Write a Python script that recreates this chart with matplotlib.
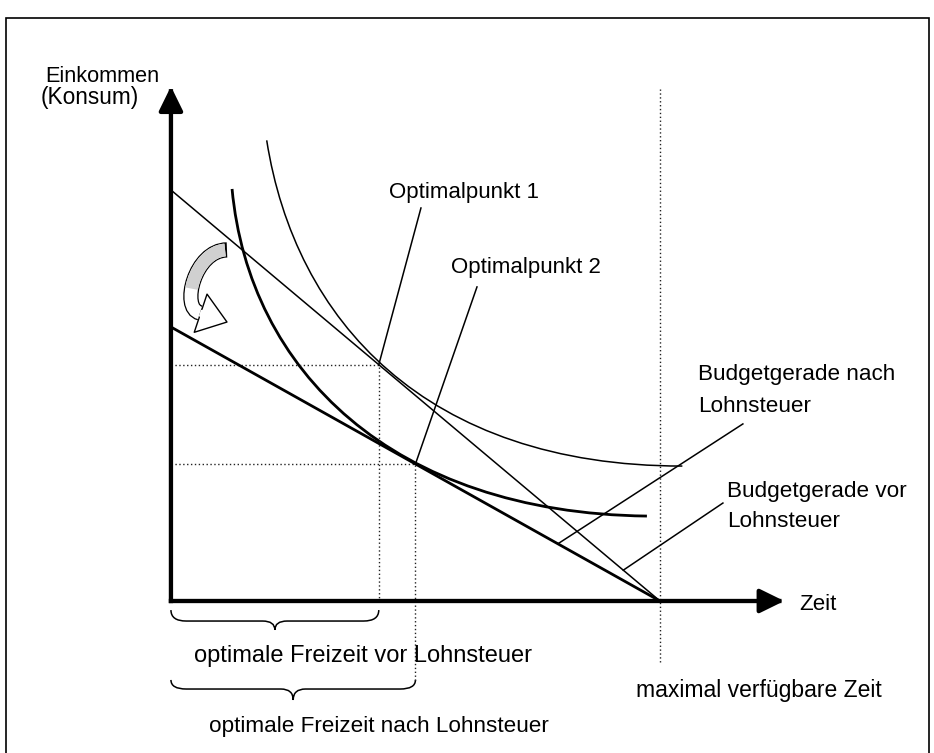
import numpy as np
import matplotlib
matplotlib.use("Agg")
import matplotlib.pyplot as plt
from matplotlib.path import Path
from matplotlib.patches import PathPatch, FancyArrowPatch, Rectangle
from matplotlib.bezier import split_de_casteljau

plt.rcParams['font.family'] = ['Liberation Sans', 'DejaVu Sans']

# time endowment (hours) and wage before / after the income tax
total_time = 24.0
wage_gross = 10.0
wage_net = 6.667

# optimal bundles: index 0 = before tax (Optimalpunkt 1), 1 = after tax (Optimalpunkt 2)
opt_leisure = [10.2, 12.0]
opt_income = [138.0, 80.0]

# indifference curves as cubic bezier control points
curve_high_x = [4.7, 6.09, 12.47, 25.1]
curve_high_y = [269.0, 164.1, 78.8, 78.8]
curve_low_x = [3.0, 3.83, 10.85, 23.36]
curve_low_y = [240.6, 134.9, 51.4, 49.6]

# labels: text, (x, baseline y), font size
labels = [
    ("Einkommen", (-6.16, 303.3), 15.6),
    ("(Konsum)", (-6.38, 290.0), 16.3),
    ("Zeit", (30.82, -5.26), 16),
    ("Optimalpunkt 1", (10.7, 235.6), 16),
    ("Optimalpunkt 2", (13.74, 191.7), 16),
    ("Budgetgerade nach", (25.87, 129.1), 16.2),
    ("Lohnsteuer", (25.87, 110.4), 16.2),
    ("Budgetgerade vor", (27.29, 60.7), 16.2),
    ("Lohnsteuer", (27.29, 43.2), 16.2),
    ("optimale Freizeit vor Lohnsteuer", (1.13, -35.4), 17),
    ("optimale Freizeit nach Lohnsteuer", (1.87, -76.3), 16.2),
    ("maximal verfügbare Zeit", (22.82, -56.1), 16.5),
]

# leader lines from the optimal points / budget lines to their labels
leader_opt_end = [(12.27, 229.5), (15.02, 183.4)]
leader_budget = [[(18.99, 33.4), (28.07, 103.4)], [(22.2, 18.0), (27.09, 57.2)]]

# brace levels below the time axis: (ends, bar, tip)
brace_levels = [(-5.3, -11.7, -16.9), (-46.1, -51.4, -57.8)]

axis_top = 300.5
axis_right = 30.1

fig = plt.figure(figsize=(9.34, 7.53), dpi=100)
ax = fig.add_axes([0, 0, 1, 1])
ax.set_xlim(-8.39, 37.45)
ax.set_ylim(-88.76, 350.95)
ax.axis('off')

# outer frame
fig.add_artist(Rectangle((0.0064, -0.05), 0.9883, 1.0261, transform=fig.transFigure,
                         fill=False, lw=1.2, ec='black'))

dotted = dict(color='#222222', lw=1.0, linestyle=(0, (1, 1.8)))

# maximal verfuegbare Zeit
ax.plot([total_time, total_time], [-35.6, 299], **dotted)

# dotted guides to the optimal points
ax.plot([0, opt_leisure[0], opt_leisure[0]], [opt_income[0], opt_income[0], 0], **dotted)
ax.plot([0, opt_leisure[1], opt_leisure[1]], [opt_income[1], opt_income[1], -47.3], **dotted)

# axes with arrow heads
for end in [(0, axis_top), (axis_right, 0)]:
    ax.add_patch(FancyArrowPatch((0, 0), end,
                                 arrowstyle='-|>,head_length=0.55,head_width=0.27',
                                 mutation_scale=27, lw=3.1, color='black',
                                 shrinkA=0, shrinkB=0, capstyle='projecting', zorder=5))

# budget lines
ax.plot([0, total_time], [wage_gross * total_time, 0], color='black', lw=1.1)
ax.plot([0, total_time], [wage_net * total_time, 0], color='black', lw=2.0)

# indifference curves
bez = [Path.MOVETO, Path.CURVE4, Path.CURVE4, Path.CURVE4]
ax.add_patch(PathPatch(Path(np.column_stack([curve_high_x, curve_high_y]), bez),
                       fill=False, lw=1.1, ec='black'))
ax.add_patch(PathPatch(Path(np.column_stack([curve_low_x, curve_low_y]), bez),
                       fill=False, lw=2.0, ec='black'))

# leader lines
for end, lx, ly in zip(leader_opt_end, opt_leisure, opt_income):
    ax.plot([lx, end[0]], [ly, end[1]], color='black', lw=1.1)
for seg in leader_budget:
    ax.plot([seg[0][0], seg[1][0]], [seg[0][1], seg[1][1]], color='black', lw=1.1)

for txt, pos, size in labels:
    ax.text(pos[0], pos[1], txt, fontsize=size, va='baseline', ha='left')


# curly braces under the time axis
def brace_path(x0, x1, y_top, y_mid, y_tip, r=0.75, rm=0.6):
    xm = (x0 + x1) / 2
    verts = [(x0, y_top), (x0, y_mid), (x0 + r, y_mid),
             (xm - rm, y_mid),
             (xm, y_mid), (xm, y_tip),
             (xm, y_mid), (xm + rm, y_mid),
             (x1 - r, y_mid),
             (x1, y_mid), (x1, y_top)]
    codes = [Path.MOVETO, Path.CURVE3, Path.CURVE3, Path.LINETO,
             Path.CURVE3, Path.CURVE3, Path.CURVE3, Path.CURVE3,
             Path.LINETO, Path.CURVE3, Path.CURVE3]
    return Path(verts, codes)


for lx, lev in zip(opt_leisure, brace_levels):
    ax.add_patch(PathPatch(brace_path(0, lx, *lev), fill=False, lw=1.1, ec='black'))


# curved arrow showing the rotation of the budget line
def sub_cubic(ctrl, t0, t1):
    left, _ = split_de_casteljau(ctrl, t1)
    _, part = split_de_casteljau(np.asarray(left), t0 / t1)
    return Path(np.asarray(part), bez)


arc_ctrl = np.array([[2.75, 205.0], [1.18, 205.0], [0.44, 171.1], [1.42, 168.2]])
arc_tip = np.array([2.75, 162.9])
tail_pt = 9.6

arc_e = arc_ctrl[-1]
head_start = arc_e - 0.3 * (arc_tip - arc_e)
ax.add_patch(FancyArrowPatch(head_start, arc_tip,
                             arrowstyle='simple,tail_width=6,head_width=29,head_length=20',
                             mutation_scale=1, shrinkA=0, shrinkB=0,
                             fc='white', ec='black', lw=1.0, zorder=3))
ax.add_patch(PathPatch(Path(arc_ctrl, bez), fill=False,
                       lw=tail_pt + 1.4, ec='black', capstyle='butt', zorder=3.1))
ax.add_patch(PathPatch(sub_cubic(arc_ctrl, 0.02, 1.0), fill=False,
                       lw=tail_pt - 0.4, ec='white', capstyle='butt', zorder=3.2))
ax.add_patch(PathPatch(sub_cubic(arc_ctrl, 0.02, 0.6), fill=False,
                       lw=tail_pt - 0.4, ec='#d0d0d0', capstyle='butt', zorder=3.3))

fig.savefig("out.png", dpi=100)
